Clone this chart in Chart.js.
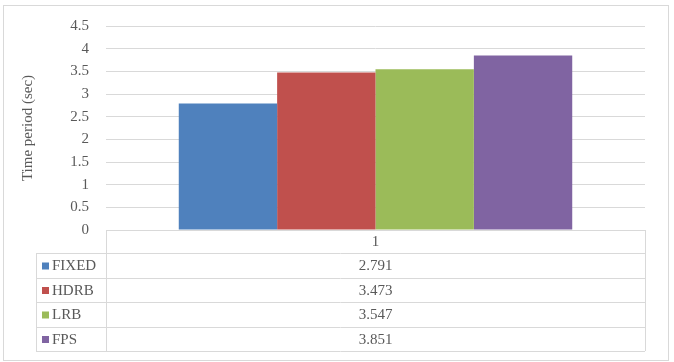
<!DOCTYPE html>
<html>
<head>
<meta charset="utf-8">
<script src="https://cdn.jsdelivr.net/npm/chart.js@4.4.0/dist/chart.umd.min.js"></script>
<style>
  html, body { margin:0; padding:0; background:#fff; }
  #wrap { width:674px; height:362px; position:relative; }
</style>
</head>
<body>
<div id="wrap"><canvas id="chart"></canvas></div>
<script>
// data
const categories = ["1"];
const seriesNames = ["FIXED", "HDRB", "LRB", "FPS"];
const seriesValues = [[2.791], [3.473], [3.547], [3.851]];
const seriesColors = ["#4F81BD", "#C0504D", "#9BBB59", "#8064A2"];
const yTicks = [0, 0.5, 1, 1.5, 2, 2.5, 3, 3.5, 4, 4.5];

const FONT = "'Liberation Serif', 'DejaVu Serif', serif";
const TXT = "#595959";
const LINE = "#D9D9D9";

// data table under the plot (Excel style) + outer frame
const tablePlugin = {
  id: "dataTable",
  afterDraw(chart) {
    const ctx = chart.ctx, a = chart.chartArea;
    const rows = [a.bottom, 253, 278, 302, 327, 351];
    const keyLeft = 36;
    ctx.save();
    ctx.strokeStyle = LINE;
    ctx.lineWidth = 1;
    // outer border
    ctx.strokeRect(3.5, 5.5, 665, 355);
    // horizontal lines
    rows.forEach((y, i) => {
      ctx.beginPath();
      ctx.moveTo(i === 0 ? a.left : keyLeft, Math.round(y) + 0.5);
      ctx.lineTo(a.right, Math.round(y) + 0.5);
      ctx.stroke();
    });
    // vertical lines
    [[keyLeft, rows[1]], [a.left, rows[0]], [a.right, rows[0]]].forEach(([x, y0]) => {
      ctx.beginPath();
      ctx.moveTo(Math.round(x) + 0.5, y0);
      ctx.lineTo(Math.round(x) + 0.5, rows[5]);
      ctx.stroke();
    });
    ctx.font = "15px " + FONT;
    ctx.fillStyle = TXT;
    ctx.textBaseline = "middle";
    const xs = chart.scales.x;
    categories.forEach((c, ci) => {
      const cx = xs.getPixelForValue(ci);
      ctx.textAlign = "center";
      ctx.fillText(c, cx, (rows[0] + rows[1]) / 2 + 1);
      seriesNames.forEach((n, si) => {
        const cy = (rows[si + 1] + rows[si + 2]) / 2 + 1;
        ctx.fillText(String(seriesValues[si][ci]), cx, cy);
      });
    });
    seriesNames.forEach((n, si) => {
      const cy = (rows[si + 1] + rows[si + 2]) / 2;
      ctx.fillStyle = seriesColors[si];
      ctx.fillRect(keyLeft + 6, cy - 3, 7, 7);
      ctx.fillStyle = TXT;
      ctx.textAlign = "left";
      ctx.fillText(n, keyLeft + 16, cy + 1);
    });
    ctx.restore();
  }
};

new Chart(document.getElementById("chart"), {
  type: "bar",
  data: {
    labels: categories,
    datasets: seriesNames.map((n, i) => ({
      label: n,
      data: seriesValues[i],
      backgroundColor: seriesColors[i],
      borderWidth: 0,
      categoryPercentage: 0.73,
      barPercentage: 1
    }))
  },
  options: {
    responsive: true,
    maintainAspectRatio: false,
    animation: false,
    layout: { padding: { left: 16, top: 26, right: 29, bottom: 132 } },
    plugins: { legend: { display: false }, tooltip: { enabled: false } },
    scales: {
      x: { display: false },
      y: {
        min: 0, max: 4.5,
        afterBuildTicks: s => { s.ticks = yTicks.map(v => ({ value: v })); },
        afterFit: s => { s.width = 90; },
        grid: { color: LINE, drawTicks: false },
        border: { display: false },
        ticks: { color: TXT, padding: 17, font: { family: FONT, size: 15 }, callback: v => String(v) },
        title: {
          display: true, text: "Time period (sec)", color: TXT,
          font: { family: FONT, size: 15 }, padding: { top: 3, bottom: 0 }
        }
      }
    }
  },
  plugins: [tablePlugin]
});
</script>
</body>
</html>
